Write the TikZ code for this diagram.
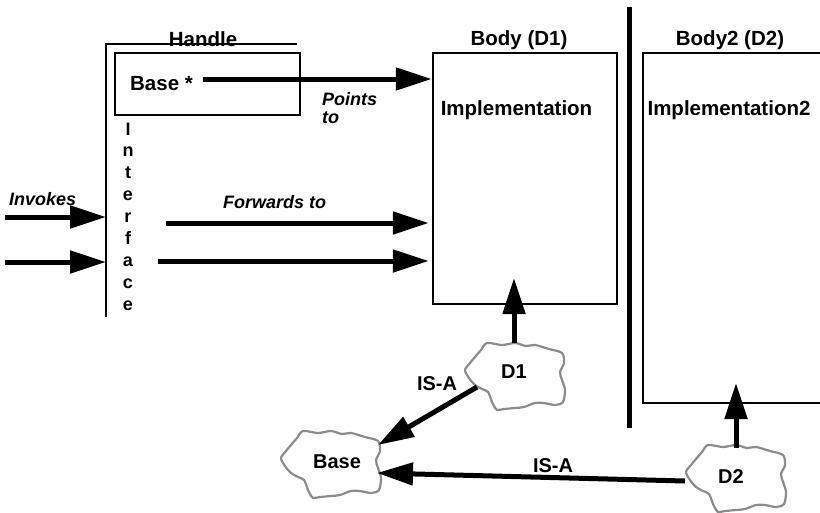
\documentclass[tikz,border=0pt]{standalone}
\usepackage{fontspec}
\setmainfont{Liberation Sans}
\usetikzlibrary{arrows.meta,calc}

\tikzset{
  boxline/.style={draw=black, line width=2.5pt},
  framebox/.style={boxline, rectangle, inner sep=0pt},
  arr/.style={line width=5pt, -{Triangle[length=36pt,width=22pt]}},
  title/.style={font=\fontsize{20.5}{24}\selectfont\bfseries, inner sep=0pt, anchor=base},
  lbl/.style={font=\fontsize{18}{21}\selectfont\bfseries\itshape, inner sep=0pt, anchor=base west},
  iface/.style={font=\fontsize{18}{20}\selectfont\bfseries, inner sep=0pt, anchor=base},
  cloudtxt/.style={font=\fontsize{20}{24}\selectfont\bfseries, inner sep=0pt, anchor=base},
  cloudline/.style={draw=black!45, line width=2.2pt, line join=round},
  blob/.pic={
    \draw[cloudline] plot[smooth cycle, tension=0.5] coordinates {
      (-27,-33) (-12,-31) (1,-33) (12,-30) (21,-31) (35,-27) (48,-23)
      (50,-13) (46,-4) (48,4) (51,14) (49,26) (41,29) (30,27) (21,27)
      (10,31) (1,32) (-10,33) (-17,34) (-20,30) (-22,26) (-26,16)
      (-32,13) (-39,9) (-45,2) (-49,-6) (-44,-13) (-39,-19) (-33,-26)};
  }
}

\begin{document}
\begin{tikzpicture}[x=1pt, y=-1pt]
\useasboundingbox (0,0) rectangle (820,512);

% ---- handle: bracket, pointer box and interface column
\draw[boxline, line width=2.3pt] (297,44) -- (106,44) coordinate (handleTL) -- (106,317);
\node[title] (handlelbl) at (203,46) {Handle};
\node[framebox, minimum width=185pt, minimum height=62pt] (ptrbox) at (207.5,84) {};
\node[title] (ptrtxt) at (161.5,90) {Base *};
\foreach \ch [count=\i] in {I,n,t,e,r,f,a,c,e}
  \node[iface] (if\i) at (128,{135+21.9*(\i-1)}) {\ch};

% ---- bodies
\node[framebox, minimum width=184pt, minimum height=251pt] (body1) at (525,178.5) {};
\node[title] (body1lbl) at (519,45) {Body (D1)};
\node[title] (impl1) at (516.5,115) {Implementation};

\draw[line width=5pt] (629,7) coordinate (divtop) -- (629,428) coordinate (divbot);

\node[framebox, minimum width=187pt, minimum height=350pt] (body2) at (736.5,228) {};
\node[title] (body2lbl) at (730,45) {Body2 (D2)};
\node[title] (impl2) at (729,115) {Implementation2};

% ---- clouds
\pic at (514,376) {blob};
\node[cloudtxt] (d1) at (514,378) {D1};
\pic at (735,478) {blob};
\node[cloudtxt] (d2) at (731,483) {D2};
\pic at (330,464) {blob};
\node[cloudtxt] (base) at (337,468) {Base};

% ---- connectors
\coordinate (ptrstart) at (203,79);
\draw[arr] (ptrstart) -- (body1.west |- ptrstart);
\node[lbl] (pts1) at (322,105) {Points};
\node[lbl] (pts2) at (322,123) {to};

\coordinate (inv1) at (5,217);
\coordinate (inv2) at (5,262);
\draw[arr] (inv1) -- (inv1 -| handleTL);
\draw[arr] (inv2) -- (inv2 -| handleTL);
\node[lbl] (invlbl) at (9,205) {Invokes};

\coordinate (fw1) at (166,223);
\coordinate (fw2) at (158,261);
\draw[arr] (fw1) -- ($(body1.west |- fw1)+(-3,0)$);
\draw[arr] (fw2) -- ($(body1.west |- fw2)+(-3,0)$);
\node[lbl] (fwlbl) at (223,208) {Forwards to};

\coordinate (d1tip) at (514,278);
\draw[arr] ($(d1.base)+(0,-35)$) -- (d1tip);
\coordinate (d2tip) at (736,383);
\draw[arr] ($(d2.base)+(5,-35)$) -- (d2tip);

\draw[arr] ($(d1.base)+(-37,9)$) -- ($(base.base)+(41,-23)$);
\node[cloudtxt] (isa1) at (437,390) {IS-A};
\draw[arr] ($(d2.base)+(-46,-2)$) -- ($(base.base)+(40,5)$);
\node[cloudtxt] (isa2) at (553,472) {IS-A};
\end{tikzpicture}
\end{document}
